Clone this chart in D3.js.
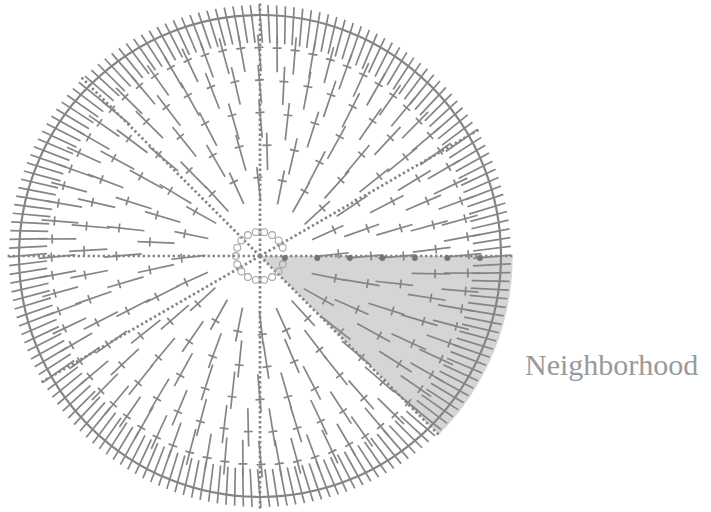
<!DOCTYPE html>
<html><head><meta charset="utf-8">
<script src="https://cdn.jsdelivr.net/npm/d3@7"></script>
<style>body{margin:0;background:#fff}svg{display:block}</style>
</head><body>
<svg id="c" width="711" height="512"></svg>
<script>
// ---- data (radial unit = one neighborhood step) ----
const ringLevels  = [2, 3, 4, 5, 6, 7];
const ringCounts  = [20, 25, 32, 45, 72, 180];
const ringOffsets = [1.5, 0, 0, 2.2, 0.3, 0];           // degrees
const ringInner   = [0.74, 0.76, 0.78, 0.72, 0.74, 0.86]; // extent inward (steps)
const ringOuter   = [0.32, 0.38, 0.38, 0.46, 0.4, 0.31];  // extent outward (steps)
const tiltDeg     = 5;
const dottedAngles = [0, 30, 90, 135, 180, 210, 270, 315];
const dotLevels   = [0.35, 1.35, 2.35, 3.35, 4.35, 5.35, 6.35];
const ringCircleAngles = [20,40,60,80,100,120,140,160,180,200,220,240,260,280,300,320,340];
const ringCircleLevel = 0.33;
const boundaryLevel = 7;
const outerLevel = 7.36;
const sectorFrom = -45, sectorTo = 0;
const label = "Neighborhood";

// ---- scales ----
const cx = 260, cy = 256;
const r = d3.scaleLinear().domain([0, 7]).range([13.5, 241]);
const ang = d3.scaleLinear().domain([0, 360]).range([0, 2 * Math.PI]);
const px = (lev, deg) => cx + r(lev) * Math.cos(ang(deg));
const py = (lev, deg) => cy - r(lev) * Math.sin(ang(deg));

const svg = d3.select("#c");
const col = "#858585";

// shaded sector
const arc = d3.arc().innerRadius(0).outerRadius(r(outerLevel))
  .startAngle(Math.PI/2 - ang(sectorTo)).endAngle(Math.PI/2 - ang(sectorFrom));
svg.append("path").attr("transform", `translate(${cx},${cy})`)
  .attr("d", arc()).attr("fill", "#d5d5d5");

// segments with cross ticks
const segs = [];
ringLevels.forEach((lev, i) => {
  const n = ringCounts[i];
  for (let k = 0; k < n; k++) {
    const a = ringOffsets[i] + k * 360 / n;
    segs.push({lev, a, inn: ringInner[i], out: ringOuter[i], ring: i});
  }
});
const g = svg.append("g");
const step = r(1) - r(0);
segs.forEach(s => {
  const x0 = px(s.lev, s.a), y0 = py(s.lev, s.a);
  const d = ang(s.a + tiltDeg);
  const ux = Math.cos(d), uy = -Math.sin(d);
  g.append("line")
    .attr("x1", x0 - ux * s.inn * step).attr("y1", y0 - uy * s.inn * step)
    .attr("x2", x0 + ux * s.out * step).attr("y2", y0 + uy * s.out * step)
    .attr("stroke", col).attr("stroke-width", 1.7);
  if (s.lev < 7) {
    const h = 4.5;
    g.append("line")
      .attr("x1", x0 - uy * h).attr("y1", y0 + ux * h)
      .attr("x2", x0 + uy * h).attr("y2", y0 - ux * h)
      .attr("stroke", col).attr("stroke-width", 1.7);
  }
});

// boundary circle
svg.append("circle").attr("cx", cx).attr("cy", cy).attr("r", r(boundaryLevel))
  .attr("fill", "none").attr("stroke", col).attr("stroke-width", 2.2);

// dotted lines
dottedAngles.forEach(a => {
  svg.append("line")
    .attr("x1", cx).attr("y1", cy)
    .attr("x2", px(outerLevel, a)).attr("y2", py(outerLevel, a))
    .attr("stroke", col).attr("stroke-width", 2.7)
    .attr("stroke-dasharray", "2.4 2.6");
});

// small open circles ring
ringCircleAngles.forEach(a => {
  svg.append("circle").attr("cx", px(ringCircleLevel, a)).attr("cy", py(ringCircleLevel, a))
    .attr("r", 3.4).attr("fill", "none").attr("stroke", "#a5a5a5").attr("stroke-width", 1.1);
});

// filled dots along 0 deg
dotLevels.forEach(l => {
  svg.append("circle").attr("cx", px(l, 0)).attr("cy", py(l, 0) + 2)
    .attr("r", 2.9).attr("fill", "#747474");
});

// label
svg.append("text").attr("x", 525).attr("y", 375)
  .attr("font-family", "'Liberation Serif', 'DejaVu Serif', serif")
  .attr("font-size", 30).attr("fill", "#999").text(label);
</script>
</body></html>
